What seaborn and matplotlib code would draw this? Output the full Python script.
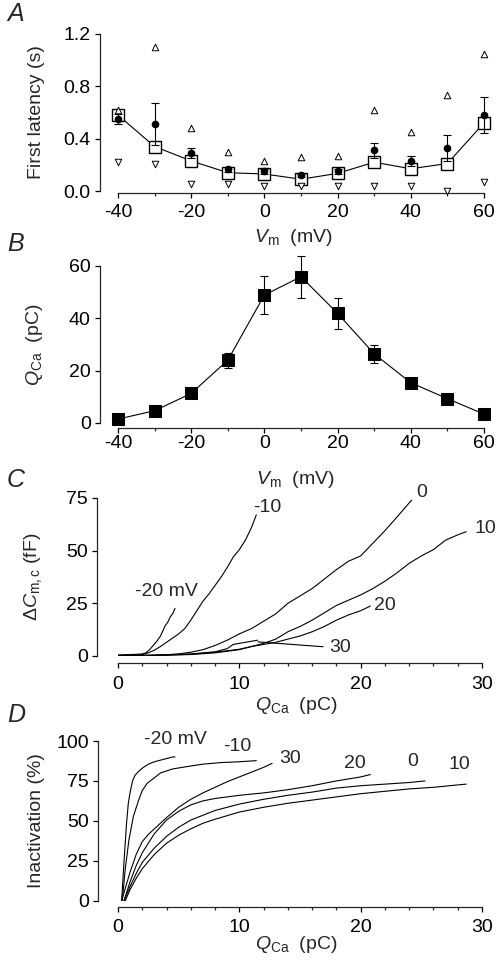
import pandas as pd
import matplotlib.pyplot as plt
import seaborn as sns
from matplotlib.ticker import MultipleLocator

# ---- panel A: first latency vs Vm
vm = [-40, -30, -20, -10, 0, 10, 20, 30, 40, 50, 60]
lat_median = [0.58, 0.34, 0.23, 0.14, 0.13, 0.09, 0.135, 0.22, 0.17, 0.21, 0.52]
lat_mean = [0.55, 0.51, 0.29, 0.165, 0.15, 0.12, 0.15, 0.31, 0.23, 0.33, 0.58]
lat_sem = [0.04, 0.16, 0.04, 0.02, 0.02, 0.01, 0.02, 0.06, 0.04, 0.10, 0.14]
lat_max = [0.62, 1.10, 0.48, 0.30, 0.23, 0.26, 0.27, 0.62, 0.45, 0.73, 1.05]
lat_min = [0.22, 0.21, 0.05, 0.05, 0.04, 0.04, 0.04, 0.04, 0.04, 0.0, 0.07]

# ---- panel B: Ca charge vs Vm
qca_mean = [1.5, 4.7, 11.3, 24.0, 48.9, 55.9, 41.9, 26.4, 15.4, 9.3, 3.4]
qca_sem = [1.0, 1.0, 1.5, 2.9, 7.3, 8.0, 5.8, 3.4, 1.5, 1.0, 1.0]

# ---- panel C: capacitance change vs Q_Ca, one trace per test potential
c_q_m20 = [0, 0.5, 1.0, 1.5, 2.0, 2.3, 2.6, 2.9, 3.2, 3.5, 3.7, 3.9, 4.1, 4.3, 4.5, 4.7]
c_dc_m20 = [0.5, 0.6, 0.7, 0.8, 1.0, 1.5, 3.0, 5.0, 7.0, 9.5, 12.0, 14.5, 16.0, 18.5, 20.0, 22.6]
c_q_m10 = [0, 1, 2, 2.5, 3, 3.5, 4, 4.5, 5, 5.5, 6, 6.5, 7, 7.5, 8, 8.5, 9, 9.5, 10, 10.5, 11, 11.4]
c_dc_m10 = [0.3, 0.4, 0.6, 1.5, 2.8, 4.5, 6.5, 8.5, 10.5, 13, 17, 21.5, 26, 29.5, 33.5, 37.5,
            42, 47, 50.5, 55, 61, 67]
c_q_0 = [0, 2, 4, 5, 6, 7, 8, 9, 10, 11, 12, 13, 14, 15, 16, 17, 18, 19, 20, 21, 22, 23, 24.2]
c_dc_0 = [0.2, 0.3, 0.6, 1, 1.8, 3, 5, 7.5, 10.5, 13, 16.5, 20, 25, 28.5, 32, 36.5, 41, 45,
          47.5, 53.5, 59.5, 66, 74]
c_q_10 = [0, 3, 6, 8, 10, 11, 12, 13, 14, 15, 16, 17, 18, 19, 20, 21, 22, 23, 24, 25, 26, 27,
          28, 28.7]
c_dc_10 = [0.1, 0.3, 0.8, 1.8, 3.2, 4.5, 6, 8, 11.5, 14, 17, 20.5, 24, 26.5, 29, 32, 35.5,
           39.5, 44, 47.5, 50.5, 55, 57.5, 59]
c_q_20 = [0, 3, 6, 8, 10, 11, 12, 13, 14, 15, 16, 17, 18, 19, 20, 20.8]
c_dc_20 = [0.1, 0.3, 0.7, 1.5, 3, 4.5, 5.5, 6.5, 8, 9.5, 11.5, 14, 17, 19.5, 21.5, 23.7]
c_q_30 = [0, 3, 6, 8, 9, 9.5, 10, 10.5, 11, 11.5]
c_dc_30 = [0.1, 0.3, 1, 2, 3.5, 5.5, 6, 6.5, 7, 7.5]

# ---- panel D: inactivation vs Q_Ca
d_q_m20 = [0.3, 0.5, 0.7, 0.85, 1.0, 1.2, 1.4, 1.7, 2.0, 2.5, 3.0, 3.5, 4.0, 4.5, 4.7]
d_in_m20 = [0, 25, 48, 61, 68, 75, 78.5, 81, 83, 85.5, 87, 88, 89, 90, 90]
d_q_m10 = [0.35, 0.6, 0.9, 1.26, 1.7, 2.0, 2.4, 3.0, 3.5, 4.5, 5.7, 7, 8.5, 10, 11.4]
d_in_m10 = [0, 20, 38, 52.6, 63, 69, 73.5, 77, 80, 82.5, 84, 85.5, 86.5, 87, 87.7]
d_q_30 = [0.3, 1, 1.5, 2, 2.5, 3, 4, 5, 6, 7, 8, 9, 10, 11, 12, 12.7]
d_in_30 = [0, 18, 29, 37, 41.5, 45, 52, 58.5, 63.5, 67.5, 71, 74.5, 77.5, 80.5, 83.5, 86]
d_q_20 = [0.5, 1, 1.5, 2, 3, 4, 5, 6, 7, 8, 10, 12, 14, 16, 18, 20, 20.8]
d_in_20 = [0, 12, 22, 30, 42, 50.5, 56, 60, 62.5, 64, 66, 67.5, 69.5, 72, 75, 77.5, 79]
d_q_0 = [0.5, 1, 1.5, 2, 3, 4, 5, 6, 8, 10, 12, 14, 16, 18, 20, 22, 24, 25.3]
d_in_0 = [0, 9, 17, 24, 33, 40.3, 46, 50.5, 56.5, 60.5, 63.5, 66, 68, 70.5, 72, 73, 74, 75]
d_q_10 = [0.6, 1, 1.5, 2, 3, 4, 5, 6, 7, 8, 10, 12, 14, 16, 18, 20, 22, 24, 26, 28, 28.7]
d_in_10 = [0, 7, 14, 20, 29, 36, 41, 45, 48.5, 51, 55.5, 58.5, 61, 63, 65, 67, 68.5, 70, 71,
           72.5, 73]

sns.set_style("ticks")
plt.rcParams['font.family'] = ['Liberation Sans', 'DejaVu Sans']
plt.rcParams['mathtext.fontset'] = 'custom'
plt.rcParams['mathtext.rm'] = 'Liberation Sans'
plt.rcParams['mathtext.it'] = 'Liberation Sans:italic'
plt.rcParams['axes.unicode_minus'] = False
plt.rcParams['font.size'] = 14
plt.rcParams['axes.linewidth'] = 0.9

FS = 14
W, H = 504, 969
fig = plt.figure(figsize=(W / 100, H / 100), dpi=100)


def add_axes(l, t, r, b):
    return fig.add_axes([l / W, 1 - b / H, (r - l) / W, (b - t) / H])


def style(ax, left_off, bottom_off, xpad, major, minor):
    sns.despine(ax=ax)
    ax.spines['left'].set_position(('outward', left_off * 0.72))
    ax.spines['bottom'].set_position(('outward', bottom_off * 0.72))
    ax.xaxis.set_major_locator(MultipleLocator(major))
    ax.xaxis.set_minor_locator(MultipleLocator(minor))
    ax.tick_params(axis='both', which='major', length=3.6, width=0.9, labelsize=FS,
                   colors='black')
    ax.tick_params(axis='x', which='major', pad=xpad)
    ax.tick_params(axis='x', which='minor', length=2.2, width=0.9)
    ax.tick_params(axis='y', which='major', pad=3)
    ax.set_facecolor('none')


def traces(qs, vals, names):
    rows = []
    for q, v, n in zip(qs, vals, names):
        rows += [{'q': a, 'val': b, 'vm': n} for a, b in zip(q, v)]
    return pd.DataFrame(rows)


# ---------------- A
axA = add_axes(118, 34, 484, 191)
sns.lineplot(x=vm, y=lat_median, ax=axA, color='black', lw=0.8, marker='s', markersize=8,
             markerfacecolor='white', markeredgecolor='black', markeredgewidth=1.0,
             zorder=2, clip_on=False)
axA.errorbar(vm, lat_mean, yerr=lat_sem, fmt='o', color='black', ms=4.5, capsize=3,
             elinewidth=0.8, capthick=0.8, zorder=3, clip_on=False)
sns.scatterplot(x=vm, y=lat_max, ax=axA, marker='^', s=22, facecolor='white',
                edgecolor='black', linewidth=0.7, zorder=3, clip_on=False)
sns.scatterplot(x=vm, y=lat_min, ax=axA, marker='v', s=22, facecolor='white',
                edgecolor='black', linewidth=0.7, zorder=3, clip_on=False)
axA.set_xlim(-40, 60)
axA.set_ylim(0, 1.2)
axA.set_yticks([0, 0.4, 0.8, 1.2])
axA.set_yticklabels(['0.0', '0.4', '0.8', '1.2'])
style(axA, 18, 1.5, 5, 20, 10)
axA.set_ylabel('First latency (s)', fontsize=FS)
axA.yaxis.set_label_coords(-0.2, 0.5)
axA.set_xlabel(r'$V_{\rm m}$  (mV)', fontsize=FS)
axA.xaxis.set_label_coords(0.478, -0.23)

# ---------------- B
axB = add_axes(118, 266, 484, 423)
sns.lineplot(x=vm, y=qca_mean, ax=axB, color='black', lw=0.8, marker='s', markersize=8,
             markerfacecolor='black', markeredgecolor='black', zorder=3, clip_on=False)
axB.errorbar(vm, qca_mean, yerr=qca_sem, fmt='none', ecolor='black', capsize=3,
             elinewidth=0.8, capthick=0.8, zorder=2, clip_on=False)
axB.set_xlim(-40, 60)
axB.set_ylim(0, 60)
axB.set_yticks([0, 20, 40, 60])
style(axB, 18, 5, 1.5, 20, 10)
axB.set_ylabel(r'$Q_{\rm Ca}$  (pC)', fontsize=FS)
axB.yaxis.set_label_coords(-0.2, 0.5)
axB.set_xlabel(r'$V_{\rm m}$  (mV)', fontsize=FS)
axB.xaxis.set_label_coords(0.486, -0.29)

# ---------------- C
axC = add_axes(118, 498, 482, 656)
dfC = traces([c_q_m20, c_q_m10, c_q_0, c_q_10, c_q_20, c_q_30],
             [c_dc_m20, c_dc_m10, c_dc_0, c_dc_10, c_dc_20, c_dc_30],
             ['-20', '-10', '0', '10', '20', '30'])
sns.lineplot(data=dfC, x='q', y='val', units='vm', estimator=None, sort=False, ax=axC,
             color='black', lw=0.8)
axC.set_xlim(0, 30)
axC.set_ylim(0, 75)
axC.set_yticks([0, 25, 50, 75])
style(axC, 21, 7, 5.5, 10, 2)
axC.set_ylabel(r'$\Delta C_{\rm m,c}$ (fF)', fontsize=FS)
axC.yaxis.set_label_coords(-0.203, 0.5)
axC.set_xlabel(r'$Q_{\rm Ca}$  (pC)', fontsize=FS)
axC.xaxis.set_label_coords(0.489, -0.245)
for s, x, y in [('-20 mV', 4.0, 30.5), ('-10', 12.3, 70.4), ('0', 25.0, 77.7),
                ('10', 30.3, 60.4), ('20', 22.0, 24.2)]:
    axC.text(x, y, s, ha='center', va='center', fontsize=FS, clip_on=False)
axC.annotate('30', xy=(11.3, 6.8), xytext=(18.3, 3.8), ha='center', va='center',
             fontsize=FS, arrowprops=dict(arrowstyle='-', lw=0.8, color='black'))

# ---------------- D
axD = add_axes(118, 741, 482, 900.7)
dfD = traces([d_q_m20, d_q_m10, d_q_30, d_q_20, d_q_0, d_q_10],
             [d_in_m20, d_in_m10, d_in_30, d_in_20, d_in_0, d_in_10],
             ['-20', '-10', '30', '20', '0', '10'])
sns.lineplot(data=dfD, x='q', y='val', units='vm', estimator=None, sort=False, ax=axD,
             color='black', lw=0.8)
axD.set_xlim(0, 30)
axD.set_ylim(0, 100)
axD.set_yticks([0, 25, 50, 75, 100])
style(axD, 20, 6, 5.5, 10, 2)
axD.set_ylabel('Inactivation (%)', fontsize=FS)
axD.yaxis.set_label_coords(-0.2, 0.5)
axD.set_xlabel(r'$Q_{\rm Ca}$  (pC)', fontsize=FS)
axD.xaxis.set_label_coords(0.49, -0.208)
for s, x, y in [('-20 mV', 4.7, 100.8), ('-10', 9.8, 96.6), ('30', 14.2, 89.2),
                ('20', 19.5, 86.0), ('0', 24.3, 87.0), ('10', 28.1, 85.0)]:
    axD.text(x, y, s, ha='center', va='center', fontsize=FS, clip_on=False)

# panel letters
for letter, x, y in [('A', 16, 14), ('B', 16, 244), ('C', 16, 480), ('D', 16, 715)]:
    fig.text(x / W, 1 - y / H, letter, fontsize=18, style='italic', ha='center', va='center')

fig.savefig('out.png', dpi=100)
